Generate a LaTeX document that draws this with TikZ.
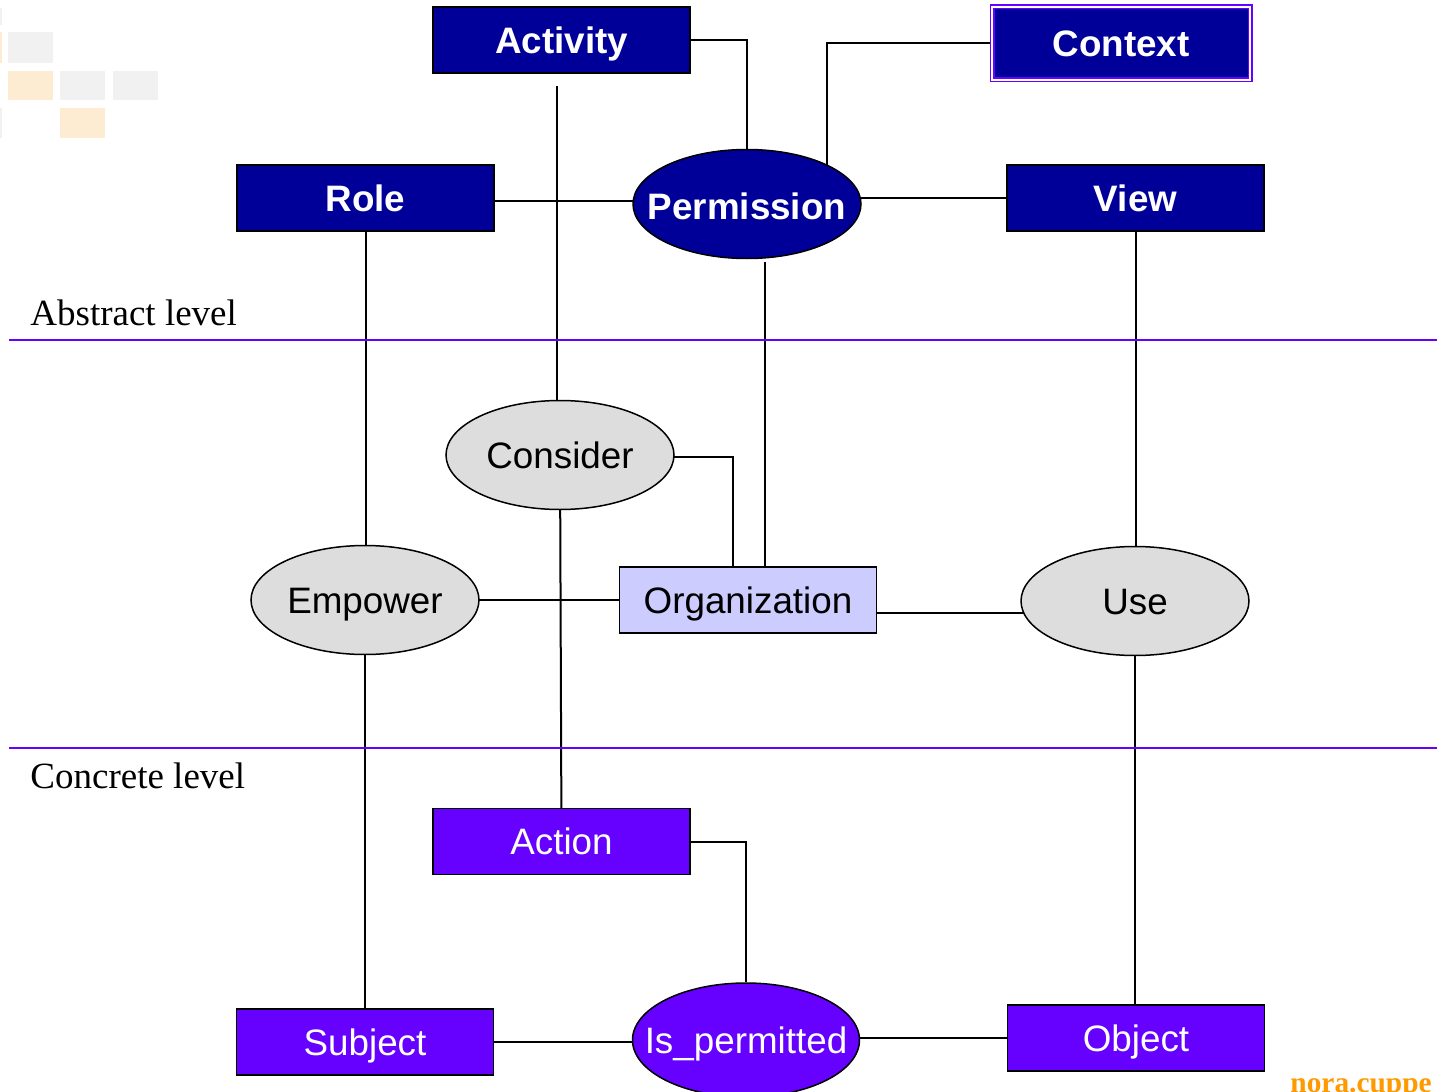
\documentclass[tikz,border=0pt]{standalone}
\usepackage{fontspec}
\setmainfont{Liberation Serif}
\setsansfont{Liberation Sans}
\usetikzlibrary{shapes.geometric,backgrounds,calc}
\definecolor{navy}{HTML}{000099}
\definecolor{vio}{HTML}{6600FF}
\definecolor{lav}{HTML}{CCCCFF}
\definecolor{lgray}{HTML}{DDDDDD}
\definecolor{fadegray}{HTML}{F1F1F1}
\definecolor{fadeorange}{HTML}{FDEBD2}
\definecolor{noraorange}{HTML}{FF9900}
\tikzset{
  txtfont/.style={font=\sffamily\fontsize{18.4}{22}\selectfont},
  boldfont/.style={font=\sffamily\bfseries\fontsize{18.4}{22}\selectfont},
  boxshape/.style={rectangle, draw=black, line width=0.75pt, minimum width=128.5pt,
    minimum height=33pt, inner sep=0pt, text height=13.2pt, text depth=0pt},
  darkbox/.style={boxshape, fill=navy, text=white, boldfont},
  violetbox/.style={boxshape, fill=vio, text=white, txtfont},
  lavbox/.style={boxshape, fill=lav, text=black, txtfont},
  ellshape/.style={ellipse, draw=black, line width=0.75pt, minimum width=114pt,
    minimum height=54.5pt, inner sep=0pt, text height=13.2pt, text depth=0pt},
  darkell/.style={ellshape, fill=navy, text=white, boldfont},
  grayell/.style={ellshape, fill=lgray, text=black, txtfont},
  violetell/.style={ellshape, fill=vio, text=white, txtfont},
  conn/.style={draw=black, line width=1pt},
  levelline/.style={draw=vio, line width=1pt},
  leveltext/.style={anchor=base west, inner sep=0pt, font=\rmfamily\fontsize{18.5}{22}\selectfont},
}
\begin{document}
\begin{tikzpicture}[x=0.5pt,y=-0.5pt]
\useasboundingbox (0,0) rectangle (1437,1092);

% faded decoration, top left
\fill[fadegray] (8,32) rectangle (53,63);
\fill[fadeorange] (8,71) rectangle (53,100);
\fill[fadegray] (60,71) rectangle (105,100);
\fill[fadegray] (113,71) rectangle (158,100);
\fill[fadeorange] (60,108) rectangle (105,138);
\fill[fadegray] (0,8) rectangle (1.5,25);
\fill[fadeorange] (0,32) rectangle (1.5,63);
\fill[fadegray] (0,108) rectangle (1.5,138);

% level lines and labels
\coordinate (absL) at (9,340);
\coordinate (absR) at (1437,340);
\coordinate (conL) at (9,748);
\coordinate (conR) at (1437,748);
\draw[levelline] (absL) -- (absR);
\draw[levelline] (conL) -- (conR);
\node[leveltext] (abstxt) at (30,325) {Abstract level};
\node[leveltext] (contxt) at (30,788) {Concrete level};
\node[anchor=base west, inner sep=0pt, text=noraorange, font=\rmfamily\bfseries\fontsize{14.7}{17}\selectfont] (nora) at (1290,1092) {nora.cuppe};

% abstract level
\node[darkbox] (act) at (561.5,40) {Activity};
\node[rectangle, draw=vio, double=white, double distance=1pt, line width=0.75pt,
  fill=navy, minimum width=129pt, minimum height=36.5pt, inner sep=0pt,
  text height=13.2pt, text depth=0pt, text=white, boldfont] (ctx) at (1121,43) {Context};
\node[darkbox] (role) at (365.5,198) {Role};
\node[darkell] (perm) at (747,204) {\makebox[0pt]{\raisebox{-1pt}{Permission}}};
\node[darkbox] (view) at (1135.5,198) {View};

% middle
\node[grayell] (cons) at (560,455) {\makebox[0pt]{Consider}};
\node[grayell] (emp) at (365,600) {\makebox[0pt]{Empower}};
\node[lavbox] (org) at (748,600) {Organization};
\node[grayell] (use) at (1135,601) {\makebox[0pt]{Use}};

% concrete level
\node[violetbox] (action) at (561.5,841.5) {Action};
\node[violetbox] (subj) at (365,1042) {Subject};
\node[violetell, minimum width=113.5pt, minimum height=57pt] (isp) at (746,1040) {\makebox[0pt]{Is\_permitted}};
\node[violetbox] (obj) at (1136,1038) {Object};

\coordinate (actfoot) at (557,86);
\coordinate (permfoot) at (765,262);
\coordinate (ctxdrop) at (827,204);

\begin{scope}[on background layer]
  \draw[conn] (act.east) -| (perm.north);
  \draw[conn] (ctx.center) -| (ctxdrop);
  \draw[conn] ($(role.center)+(0,3)$) -- ($(perm.center)+(0,-3)$);
  \draw[conn] (view.center) -- (view.center -| perm.center);
  \draw[conn] (actfoot) -- (actfoot |- cons.center);
  \draw[conn] (permfoot) -- (permfoot |- org.center);
  \draw[conn] (role.center) -- (role.center |- emp.center);
  \draw[conn] (view.center) -- (view.center |- use.center);
  \draw[conn] ($(cons.center)+(0,2)$) -| ($(org.center)+(-15,0)$);
  \draw[conn] (cons.center) -- (action.center);
  \draw[conn] (emp.center) -- (org.center);
  \draw[conn] ($(org.center)+(0,13)$) -- ($(use.center)+(0,12)$);
  \draw[conn] (emp.center) -- (emp.center |- subj.center);
  \draw[conn] (use.center) -- (use.center |- obj.center);
  \draw[conn] (action.east) -| (isp.north);
  \draw[conn] (subj.center) -- (subj.center -| isp.center);
  \draw[conn] (obj.center) -- (obj.center -| isp.center);
\end{scope}
\end{tikzpicture}
\end{document}
